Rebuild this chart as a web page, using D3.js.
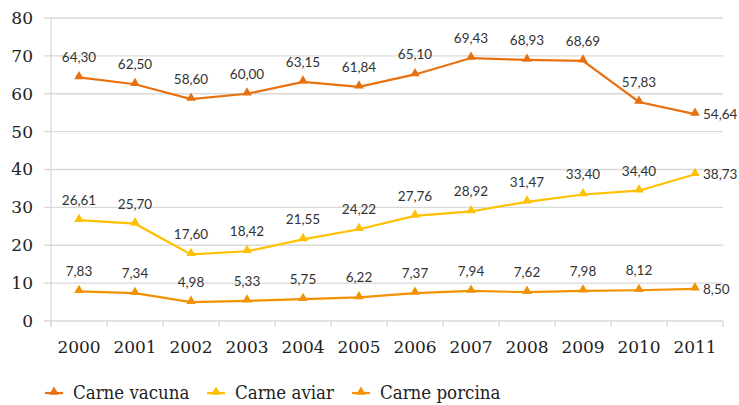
<!DOCTYPE html>
<html>
<head>
<meta charset="utf-8">
<script src="https://cdn.jsdelivr.net/npm/d3@7"></script>
<style>
  body { margin: 0; background: #fff; }
  .axis text { font-family: "DejaVu Serif", serif; font-size: 17px; fill: #222; }
  .lbl { font-family: "Lato", "Noto Sans", sans-serif; font-size: 13.5px; fill: #333; }
  .leg { font-family: "DejaVu Serif Condensed", "DejaVu Serif", serif; font-stretch: condensed; font-size: 18.5px; fill: #222; }
</style>
</head>
<body>
<div id="chart"></div>
<script>
var years = ["2000","2001","2002","2003","2004","2005","2006","2007","2008","2009","2010","2011"];
var vacuna = [64.30, 62.50, 58.60, 60.00, 63.15, 61.84, 65.10, 69.43, 68.93, 68.69, 57.83, 54.64];
var aviar = [26.61, 25.70, 17.60, 18.42, 21.55, 24.22, 27.76, 28.92, 31.47, 33.40, 34.40, 38.73];
var porcina = [7.83, 7.34, 4.98, 5.33, 5.75, 6.22, 7.37, 7.94, 7.62, 7.98, 8.12, 8.50];
var yTicks = [0, 10, 20, 30, 40, 50, 60, 70, 80];

var series = [
  {name: "Carne vacuna", values: vacuna, color: "#E8700E"},
  {name: "Carne aviar", values: aviar, color: "#FFC000"},
  {name: "Carne porcina", values: porcina, color: "#F39200"}
];

var width = 739, height = 405,
    margin = {top: 18, right: 16, bottom: 84, left: 51};

var svg = d3.select("#chart").append("svg")
  .attr("width", width).attr("height", height);

var x = d3.scaleBand().domain(years).range([margin.left, width - margin.right]);
var y = d3.scaleLinear().domain([0, 80]).range([height - margin.bottom, margin.top]);

var fmt = function(v) { return v.toFixed(2).replace(".", ","); };

// gridlines
svg.append("g")
  .selectAll("line").data(yTicks).enter().append("line")
  .attr("x1", margin.left - 7).attr("x2", width - margin.right)
  .attr("y1", d => y(d)).attr("y2", d => y(d))
  .attr("stroke", "#d9d9d9").attr("stroke-width", 1.3);

// y axis
var yAxis = svg.append("g").attr("class", "axis")
  .attr("transform", `translate(${margin.left},0)`)
  .call(d3.axisLeft(y).tickValues(yTicks).tickSize(0).tickPadding(18));
yAxis.select(".domain").remove();
svg.append("line")
  .attr("x1", margin.left).attr("x2", margin.left)
  .attr("y1", margin.top).attr("y2", y(0) + 6)
  .attr("stroke", "#d9d9d9").attr("stroke-width", 1.3);

// x axis
var xAxis = svg.append("g").attr("class", "axis")
  .attr("transform", `translate(0,${y(0)})`)
  .call(d3.axisBottom(x).tickSize(0).tickPadding(20));
xAxis.select(".domain").remove();
svg.append("g").selectAll("line")
  .data(years.concat(["end"])).enter().append("line")
  .attr("x1", (d, i) => margin.left + i * x.step())
  .attr("x2", (d, i) => margin.left + i * x.step())
  .attr("y1", y(0)).attr("y2", y(0) + 6)
  .attr("stroke", "#d9d9d9").attr("stroke-width", 1.3);

var cx = d => x(d) + x.bandwidth() / 2;
var tri = d3.symbol().type(d3.symbolTriangle).size(40);

var line = d3.line().x((d, i) => cx(years[i])).y(d => y(d));

series.forEach(function(s) {
  svg.append("path")
    .attr("d", line(s.values))
    .attr("fill", "none").attr("stroke", s.color).attr("stroke-width", 2.2);
  svg.append("g").selectAll("path").data(s.values).enter().append("path")
    .attr("d", tri)
    .attr("transform", (d, i) => `translate(${cx(years[i])},${y(d) - 1})`)
    .attr("fill", s.color);
  svg.append("g").selectAll("text").data(s.values).enter().append("text")
    .attr("class", "lbl")
    .attr("x", (d, i) => i === years.length - 1 ? cx(years[i]) + 8 : cx(years[i]))
    .attr("y", (d, i) => i === years.length - 1 ? y(d) + 5 : y(d) - 15)
    .attr("text-anchor", (d, i) => i === years.length - 1 ? "start" : "middle")
    .text(d => fmt(d));
});

// legend
var legX = [45, 207, 352];
var leg = svg.append("g").selectAll("g").data(series).enter().append("g")
  .attr("transform", (d, i) => `translate(${legX[i]},393)`);
leg.append("line").attr("x1", 0).attr("x2", 18).attr("y1", 0).attr("y2", 0)
  .attr("stroke", d => d.color).attr("stroke-width", 2.2);
leg.append("path").attr("d", tri).attr("transform", "translate(9,-1)")
  .attr("fill", d => d.color);
leg.append("text").attr("class", "leg").attr("x", 28).attr("y", 6)
  .text(d => d.name);
</script>
</body>
</html>
